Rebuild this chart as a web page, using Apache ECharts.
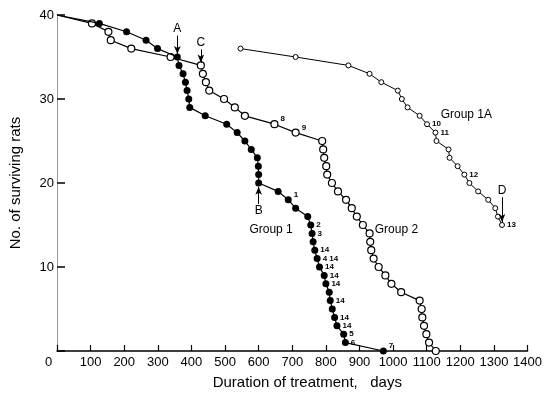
<!DOCTYPE html>
<html>
<head>
<meta charset="utf-8">
<script src="https://cdn.jsdelivr.net/npm/echarts@6/dist/echarts.min.js"></script>
<style>
  html, body { margin: 0; padding: 0; background: #fff; }
  #chart { width: 545px; height: 395px; }
</style>
</head>
<body>
<div id="chart"></div>
<script>
// Survival of rats against duration of treatment (days).
// Group 1 (filled circles)
const group1Days  = [0, 126, 207, 265, 299, 358, 363, 375, 382, 387, 392, 395, 441, 505, 536, 559, 578, 596, 599, 600, 600,
                     658, 688, 710, 746, 755, 759, 762, 767, 774, 781, 795, 800, 810, 813, 819, 826, 833, 853, 858, 971];
const group1Alive = [40, 39, 38, 37, 36, 35, 34, 33, 32, 31, 30, 29, 28, 27, 26, 25, 24, 23, 22, 21, 20,
                     19, 18, 17, 16, 15, 14, 13, 12, 11, 10, 9, 8, 7, 6, 5, 4, 3, 2, 1, 0];
// Group 2 (open circles)
const group2Days  = [0, 104, 153, 160, 221, 338, 428, 434, 443, 453, 497, 529, 559, 647, 710, 789, 792, 795, 801, 804,
                     818, 836, 860, 877, 892, 910, 930, 932, 935, 942, 957, 977, 995, 1024, 1079, 1085, 1087, 1092, 1099, 1107, 1127];
const group2Alive = [40, 39, 38, 37, 36, 35, 34, 33, 32, 31, 30, 29, 28, 27, 26, 25, 24, 23, 22, 21,
                     20, 19, 18, 17, 16, 15, 14, 13, 12, 11, 10, 9, 8, 7, 6, 5, 4, 3, 2, 1, 0];
// Group 1A (small open circles)
const group1ADays  = [546, 710, 867, 930, 965, 1014, 1026, 1043, 1079, 1101, 1126, 1129, 1165, 1168, 1192, 1212, 1227, 1253, 1283, 1304, 1312, 1324];
const group1AAlive = [36, 35, 34, 33, 32, 31, 30, 29, 28, 27, 26, 25, 24, 23, 22, 21, 20, 19, 18, 17, 16, 15];

// Footnote numbers attached to points, keyed by number of survivors
const group1Notes  = {18: '1', 15: '2', 14: '3', 12: '14', 11: '4 14', 10: '14', 9: '14', 8: '14', 6: '14', 4: '14', 3: '14', 2: '5', 1: '6', 0: '7'};
const group2Notes  = {27: '8', 26: '9'};
const group1ANotes = {27: '10', 26: '11', 21: '12', 15: '13'};
const raisedNotes  = ['1', '7', '8', '9'];

// Arrows: letter, group, survivor count of the point, arrow tail (in survivors)
const arrows = [
  {name: 'A', group: 'g1',  alive: 35, tail: 37.55},
  {name: 'B', group: 'g1',  alive: 20, tail: 17.5},
  {name: 'C', group: 'g2',  alive: 34, tail: 35.9},
  {name: 'D', group: 'g1A', alive: 15, tail: 18.3}
];

// Curve captions: [text, day, survivors]
const captions = {
  g1:  ['Group 1', 637, 14.4],
  g2:  ['Group 2', 1010, 14.4],
  g1A: ['Group 1A', 1218, 28.1]
};

const xTickStep = 100, xMax = 1400;
const yTickStep = 10, yMax = 40;

const FONT = 'Liberation Sans';

function buildPoints(days, alive, notes) {
  return days.map((d, i) => {
    const item = {value: [d, alive[i]]};
    if (d === 0) item.symbol = 'none';
    const note = notes[alive[i]];
    if (note !== undefined) {
      const raised = raisedNotes.includes(note);
      item.label = {
        show: true,
        formatter: note,
        position: 'right',
        distance: 2,
        offset: raised ? [0, -5] : [0, 0],
        fontSize: 8,
        fontWeight: 'bold',
        fontFamily: FONT,
        color: '#000'
      };
    }
    return item;
  });
}

const groups = {
  g1:  {days: group1Days,  alive: group1Alive},
  g2:  {days: group2Days,  alive: group2Alive},
  g1A: {days: group1ADays, alive: group1AAlive}
};

function arrowLines(key) {
  return arrows.filter(a => a.group === key).map(a => {
    const g = groups[key];
    const day = g.days[g.alive.indexOf(a.alive)];
    const head = a.tail > a.alive ? a.alive + 0.35 : a.alive - 0.45;
    return [
      {coord: [day, a.tail], name: a.name},
      {coord: [day, head]}
    ];
  });
}

function captionPoint(key) {
  const c = captions[key];
  return {
    symbol: 'circle',
    symbolSize: 0,
    silent: true,
    label: {show: true, position: 'inside', formatter: '{b}', fontSize: 12, fontFamily: FONT, color: '#000'},
    data: [{name: c[0], coord: [c[1], c[2]]}]
  };
}

const arrowStyle = {
  silent: true,
  symbol: ['none', 'arrow'],
  symbolSize: [5, 8],
  lineStyle: {color: '#000', width: 1, type: 'solid'},
  label: {show: true, position: 'start', formatter: '{b}', distance: 1, fontSize: 12, fontFamily: FONT, color: '#000'},
  emphasis: {disabled: true}
};

const chart = echarts.init(document.getElementById('chart'), null, {renderer: 'canvas'});

chart.setOption({
  animation: false,
  backgroundColor: '#fff',
  grid: {left: 53, right: 15, top: 15, bottom: 39, containLabel: false},
  xAxis: {
    type: 'value',
    min: 0,
    max: xMax,
    interval: xTickStep,
    name: 'Duration of treatment,   days',
    nameLocation: 'middle',
    nameGap: 24,
    nameTextStyle: {fontSize: 15, fontFamily: FONT, color: '#000', padding: [0, 0, 0, 30]},
    axisLine: {show: true, lineStyle: {color: '#000', width: 1.5}},
    axisTick: {show: true, inside: true, length: 6, lineStyle: {color: '#000', width: 1.2}},
    axisLabel: {
      margin: 5,
      fontSize: 13,
      fontFamily: FONT,
      color: '#000',
      formatter: v => v === 0 ? '{z|0}' : String(v),
      rich: {z: {fontSize: 13, fontFamily: FONT, color: '#000', padding: [0, 17, 0, 0]}}
    },
    splitLine: {show: false}
  },
  yAxis: {
    type: 'value',
    min: 0,
    max: yMax,
    interval: yTickStep,
    name: 'No. of surviving rats',
    nameLocation: 'middle',
    nameGap: 34,
    nameRotate: 90,
    nameTextStyle: {fontSize: 15, fontFamily: FONT, color: '#000'},
    axisLine: {show: true, lineStyle: {color: '#999', width: 1}},
    axisTick: {show: true, inside: true, length: 8, lineStyle: {color: '#000', width: 1.5}},
    axisLabel: {
      margin: 3,
      fontSize: 13,
      fontFamily: FONT,
      color: '#000',
      formatter: v => v === 0 ? '' : String(v)
    },
    splitLine: {show: false}
  },
  series: [
    {
      name: 'Group 2',
      type: 'line',
      data: buildPoints(group2Days, group2Alive, group2Notes),
      symbol: 'circle',
      symbolSize: 7,
      showAllSymbol: true,
      itemStyle: {color: '#fff', borderColor: '#000', borderWidth: 1.2},
      lineStyle: {color: '#000', width: 1.2},
      markLine: Object.assign({}, arrowStyle, {data: arrowLines('g2')}),
      markPoint: captionPoint('g2'),
      z: 2
    },
    {
      name: 'Group 1',
      type: 'line',
      data: buildPoints(group1Days, group1Alive, group1Notes),
      symbol: 'circle',
      symbolSize: 7,
      showAllSymbol: true,
      itemStyle: {color: '#000', borderColor: '#000', borderWidth: 0},
      lineStyle: {color: '#000', width: 1.2},
      markLine: Object.assign({}, arrowStyle, {data: arrowLines('g1')}),
      markPoint: captionPoint('g1'),
      z: 3
    },
    {
      name: 'Group 1A',
      type: 'line',
      data: buildPoints(group1ADays, group1AAlive, group1ANotes),
      symbol: 'circle',
      symbolSize: 5,
      showAllSymbol: true,
      itemStyle: {color: '#fff', borderColor: '#000', borderWidth: 1},
      lineStyle: {color: '#000', width: 1},
      markLine: Object.assign({}, arrowStyle, {data: arrowLines('g1A')}),
      markPoint: captionPoint('g1A'),
      z: 2
    }
  ]
});
</script>
</body>
</html>
